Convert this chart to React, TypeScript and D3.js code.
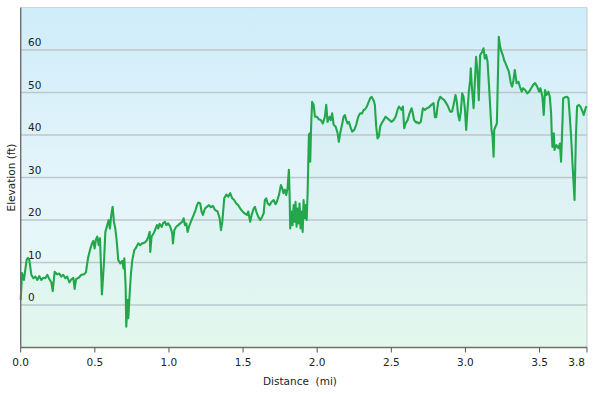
import React from 'react';
import * as d3 from 'd3';

// distance along the trail (mi)
const distanceMi = [
  0.000,0.009,0.022,0.040,0.049,0.058,0.072,0.085,0.099,0.112,0.126,0.139,0.153,0.166,0.180,0.193,0.207,0.216,0.229,0.247,0.260,0.274,0.287,0.301,0.314,0.328,0.341,0.355,0.364,0.373,0.391,0.409,0.427,0.440,0.454,0.467,0.481,0.490,0.499,0.508,0.517,0.526,0.535,0.548,0.562,0.571,0.584,0.593,0.602,0.611,0.620,0.629,0.638,
  0.647,0.658,0.672,0.685,0.694,0.699,0.708,0.712,0.722,0.726,0.735,0.744,0.753,0.766,0.775,0.793,0.807,0.820,0.838,0.852,0.861,0.870,0.874,0.883,0.897,0.906,0.919,0.928,0.937,0.951,0.960,0.973,0.982,0.995,1.009,1.022,1.027,1.036,1.049,1.063,1.076,1.090,1.099,1.108,1.117,1.126,1.135,1.148,1.167,1.180,1.189,1.198,1.211,1.220,1.229,1.243,1.256,1.270,1.283,1.297,1.310,
  1.328,1.342,1.351,1.360,1.373,1.387,1.400,1.413,1.427,1.440,1.454,1.467,1.481,1.494,1.508,1.526,1.535,1.548,1.558,1.571,1.580,1.589,1.602,1.616,1.625,1.639,1.647,1.656,1.666,1.679,1.693,1.706,1.719,1.728,1.742,1.755,1.764,1.773,1.782,1.791,1.800,1.809,1.814,1.818,
  1.827,1.834,1.841,1.848,1.854,1.861,1.868,1.875,1.881,1.888,1.895,1.902,1.908,1.915,1.922,1.929,1.935,1.939,1.944,1.949,1.953,1.958,1.962,1.966,1.976,1.985,
  1.998,2.011,2.025,2.038,2.052,2.061,2.070,2.084,2.092,2.101,2.111,2.124,2.138,2.146,2.155,2.169,2.178,2.187,2.196,2.205,2.214,2.227,2.236,2.250,2.263,2.277,2.290,2.303,2.313,2.322,2.335,2.344,2.357,2.367,2.380,2.389,2.398,2.407,2.416,2.425,2.434,2.448,2.461,2.475,2.488,2.502,2.515,2.529,2.542,2.551,2.560,2.569,2.578,2.587,2.596,2.610,2.623,2.637,2.645,2.654,2.668,
  2.672,2.686,2.699,2.713,2.726,2.740,2.753,2.771,2.785,2.794,2.803,2.816,2.830,2.843,2.857,2.870,2.883,2.897,2.910,2.924,2.933,2.942,2.951,2.960,2.969,2.978,2.987,2.996,3.005,3.014,3.023,3.032,3.036,3.045,3.055,3.064,3.072,3.082,3.090,3.099,3.113,3.122,3.131,3.140,3.149,3.158,3.167,3.176,3.183,3.190,3.194,3.203,3.212,3.216,3.221,3.225,3.234,3.243,3.252,3.261,3.270,3.279,3.293,3.306,3.315,3.324,3.333,
  3.345,3.358,3.367,3.380,3.389,3.403,3.416,3.430,3.443,3.457,3.470,3.484,3.497,3.506,3.519,3.528,3.537,3.547,3.560,3.569,3.578,3.582,3.587,3.596,3.601,3.614,3.628,3.637,3.645,3.655,3.659,3.672,3.686,3.695,3.704,3.713,3.722,3.731,3.736,3.745,3.753,3.763,3.776,3.790,3.798,3.807,3.816,
];

// elevation (ft) at each distance above
const elevationFt = [
  1.2,7.5,5.9,10.6,11.1,10.6,7.1,6.3,6.7,5.9,6.8,5.9,6.4,6.3,7.1,6.1,5.3,3.3,7.8,7.2,7.4,6.7,7.1,6.3,6.7,5.3,6.0,6.4,3.8,6.1,6.4,7.1,7.2,7.7,11.0,12.9,14.5,15.1,13.3,15.5,16.1,14.1,15.7,2.5,10.2,17.2,18.8,20.0,18.0,21.2,23.1,19.6,18.0,
  15.3,10.6,9.8,10.4,8.6,11.0,4.3,-5.1,1.2,-3.1,2.7,7.5,10.6,12.9,13.3,14.5,14.1,14.5,14.7,15.3,16.1,17.2,12.5,16.1,16.9,17.6,18.8,18.0,19.1,18.4,19.2,19.6,18.8,19.2,18.4,16.9,14.5,17.6,18.4,18.8,19.2,19.6,20.4,18.8,19.2,17.2,18.4,19.6,21.2,22.4,23.5,24.1,23.9,22.0,21.2,22.7,23.1,23.5,23.0,23.3,22.4,
  22.0,20.4,17.6,19.6,25.1,26.0,25.5,26.3,25.1,24.7,23.9,23.5,22.7,22.1,21.6,21.2,22.0,19.6,21.2,22.7,23.1,22.0,20.8,20.0,20.5,21.6,24.7,25.1,23.9,23.5,24.3,24.7,23.7,24.3,25.9,28.2,27.5,26.3,27.1,25.9,27.5,31.8,25.9,18.0,
  22.0,18.8,23.5,19.6,24.3,18.4,22.7,19.2,23.9,18.0,22.0,17.2,24.7,20.4,23.5,20.0,25.9,32.2,40.0,40.4,33.7,40.8,44.7,47.8,47.1,44.3,
  44.3,43.7,43.5,42.7,44.3,47.1,43.1,44.3,43.5,45.1,42.4,42.0,40.4,38.4,40.4,42.7,44.3,44.7,43.5,42.7,43.1,41.6,40.8,41.2,42.4,44.3,45.1,45.1,45.9,46.0,46.7,47.5,48.6,49.0,48.2,47.1,42.0,39.2,39.6,42.0,42.7,43.5,44.3,43.9,43.5,43.1,43.5,44.3,45.9,46.7,46.3,45.9,46.7,41.6,42.7,43.5,45.1,46.3,45.1,43.5,42.9,
  43.1,42.7,43.1,46.3,45.9,46.3,46.5,47.1,47.5,44.2,44.2,47.8,49.0,48.6,48.2,47.5,46.7,45.5,45.5,47.8,49.4,47.8,44.7,43.4,45.5,49.8,49.0,46.3,41.2,45.9,50.2,52.9,55.7,50.6,46.3,52.9,58.4,54.5,48.2,58.8,59.6,60.4,58.0,58.8,57.3,52.2,46.7,41.2,39.6,34.9,41.2,42.0,42.7,49.0,56.9,63.1,60.8,59.6,58.8,57.6,56.9,56.1,54.9,52.2,51.4,52.9,55.3,
  52.2,52.5,51.4,50.2,51.0,50.6,49.8,50.2,51.0,51.8,52.2,51.4,50.2,51.0,49.0,44.7,50.6,49.4,50.2,49.0,45.1,40.4,37.2,40.4,36.5,37.6,36.9,38.0,33.7,43.5,48.6,48.9,49.0,48.6,44.3,39.6,33.3,27.8,24.7,39.6,46.7,47.1,46.7,45.5,44.7,45.9,46.8,
];

const totalMi = 3.82;
const xTicks = [0, 0.5, 1.0, 1.5, 2.0, 2.5, 3.0, 3.5];
const yTicks = [0, 10, 20, 30, 40, 50, 60];

const W = 593;
const H = 394;
const left = 20.7, right = 587, top = 7.5, bottom = 347.5;
const font = '"DejaVu Sans", Verdana, sans-serif';

export default function App() {
  const x = d3.scaleLinear().domain([0, totalMi]).range([left, right]);
  const y = d3.scaleLinear().domain([-10, 70]).range([bottom, top]);

  const pts: [number, number][] = distanceMi.map((d, i) => [d, elevationFt[i]]);
  const line = d3.line<[number, number]>().x(d => x(d[0])).y(d => y(d[1]));
  const area = d3.area<[number, number]>().x(d => x(d[0])).y0(bottom).y1(d => y(d[1]));

  const tickLabels = [...xTicks.map(t => ({ v: t, label: t.toFixed(1) })), { v: totalMi, label: '3.8' }];

  return (
    <svg width={W} height={H} style={{ position: 'absolute', left: 0, top: 0, background: '#fff' }}>
      <defs>
        <linearGradient id="bg" x1="0" y1="0" x2="0" y2="1">
          <stop offset="0%" stopColor="#cfedf9" />
          <stop offset="50%" stopColor="#e4f4fb" />
          <stop offset="100%" stopColor="#eafbf3" />
        </linearGradient>
      </defs>
      <rect x={left} y={top} width={right - left} height={bottom - top} fill="url(#bg)" />
      <path d={area(pts) || ''} fill="#2fb35a" fillOpacity={0.04} />

      {/* grid */}
      {yTicks.map(t => (
        <line key={t} x1={left} x2={right} y1={y(t)} y2={y(t)} stroke="#bcc7cb" strokeWidth={1.3} />
      ))}
      {yTicks.map(t => (
        <text key={'l' + t} x={28} y={y(t) - 4} fontFamily={font} fontSize={10.5} fill="#222">{t}</text>
      ))}

      {/* frame */}
      <line x1={left} x2={right} y1={top} y2={top} stroke="#cfd4d6" strokeWidth={1} />
      <line x1={right} x2={right} y1={top} y2={bottom} stroke="#c4c9cb" strokeWidth={1} />

      <path d={line(pts) || ''} fill="none" stroke="#22a84a" strokeWidth={2.1} strokeLinejoin="round" />

      <line x1={left} x2={left} y1={top} y2={bottom} stroke="#6e6e6e" strokeWidth={1.4} />
      <line x1={left} x2={right} y1={bottom} y2={bottom} stroke="#6e6e6e" strokeWidth={1.4} />

      {tickLabels.map(t => (
        <g key={t.label + t.v} transform={`translate(${x(t.v)},0)`}>
          <line y1={bottom} y2={bottom + 5} stroke="#555" strokeWidth={1} />
          <text y={366} textAnchor={t.v === totalMi ? 'end' : 'middle'} dx={t.v === totalMi ? -2 : 0}
            fontFamily={font} fontSize={10.5} fill="#222">{t.label}</text>
        </g>
      ))}

      <text x={300} y={385} textAnchor="middle" fontFamily={font} fontSize={10.5} fill="#222"
        style={{ whiteSpace: 'pre' }}>{'Distance  (mi)'}</text>
      <text transform={`translate(15,${(top + bottom) / 2}) rotate(-90)`} textAnchor="middle"
        fontFamily={font} fontSize={10.5} fill="#222">Elevation (ft)</text>
    </svg>
  );
}
